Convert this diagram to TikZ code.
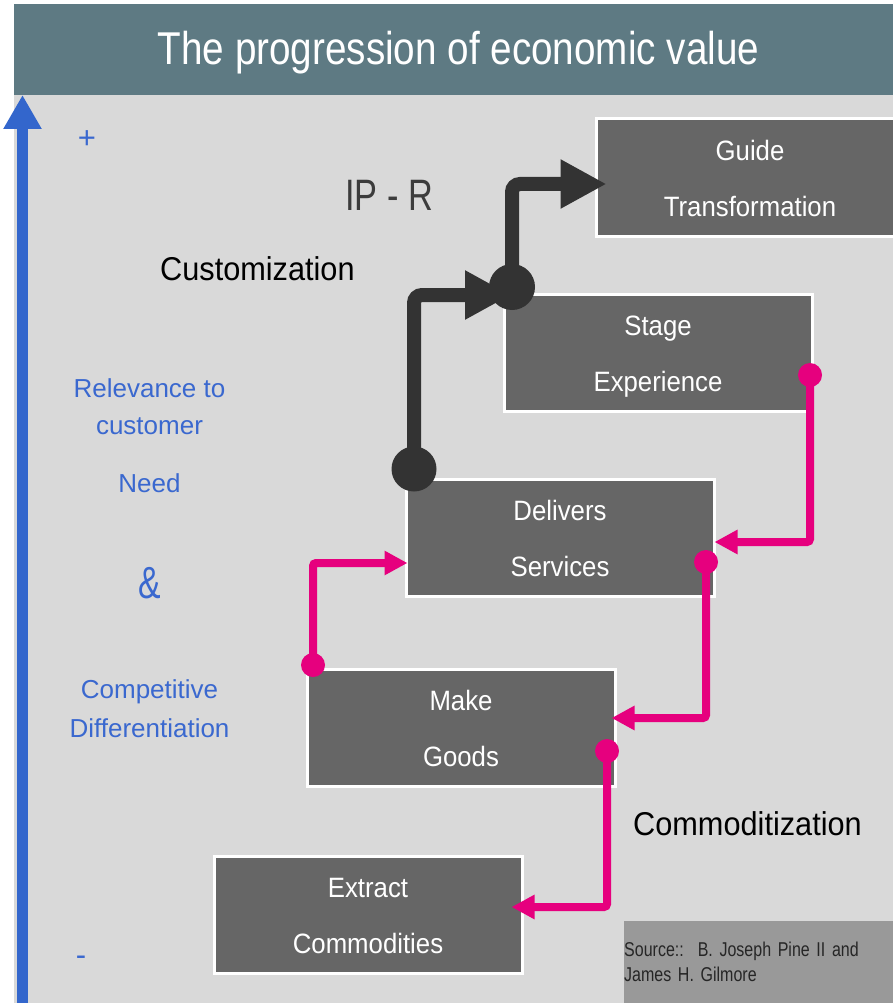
\documentclass[tikz,border=0pt]{standalone}
\usepackage{fontspec}
\setmainfont{Liberation Sans}
\newfontfamily\titlefam[FakeStretch=0.84]{Liberation Sans}
\newfontfamily\boxfam[FakeStretch=0.92]{Liberation Sans}
\newfontfamily\labfam[FakeStretch=0.93]{Liberation Sans}
\newfontfamily\iprfam[FakeStretch=0.78]{Liberation Sans}
\newfontfamily\srcfam[FakeStretch=0.8]{Liberation Sans}
\newfontfamily\ampfam[FakeStretch=0.75]{Liberation Sans}
\newcommand\srcfontsel{\srcfam\fontsize{20}{25}\selectfont\frenchspacing\spaceskip=4pt plus 1pt minus 1pt\relax}
\usetikzlibrary{arrows.meta,calc}
\definecolor{titlebg}{HTML}{5E7A83}
\definecolor{panelbg}{HTML}{D9D9D9}
\definecolor{boxgray}{HTML}{666666}
\definecolor{axisblue}{HTML}{3366CC}
\definecolor{textblue}{HTML}{3A68CF}
\definecolor{pinkc}{HTML}{E6007E}
\definecolor{darkc}{HTML}{333333}
\definecolor{srcgray}{HTML}{999999}
\definecolor{iprgray}{HTML}{3C3C3C}
\tikzset{
  stagebox/.style={rectangle, draw=white, line width=3pt, fill=boxgray,
    minimum width=308pt, minimum height=117pt, inner sep=0pt, text=white,
    align=center, font=\boxfam\fontsize{28}{56}\selectfont},
  bluelab/.style={text=textblue, anchor=base, inner sep=0pt,
    font=\fontsize{26}{31}\selectfont},
  sidelab/.style={text=black, anchor=base west, inner sep=0pt,
    font=\labfam\fontsize{33}{40}\selectfont},
  darkline/.style={draw=darkc, line width=14pt, rounded corners=8pt,
    -{Triangle[length=46pt,width=46pt]}},
  pinkline/.style={draw=pinkc, line width=8pt, rounded corners=3pt,
    -{Triangle[length=23pt,width=23pt]}},
}
\begin{document}
\begin{tikzpicture}[x=1pt,y=-1pt]
\useasboundingbox (0,0) rectangle (893,1003);
% background panels
\fill[panelbg] (14,95) rectangle (893,1003);
\fill[titlebg] (14,4) rectangle (893,95);
\node[text=white, anchor=base, inner sep=0pt, font=\titlefam\fontsize{46}{55}\selectfont]
  (title) at (458.5,65) {The progression of economic value};
% value axis
\coordinate (axisbot) at (22.5,1010);
\coordinate (axistop) at (22.5,95);
\draw[draw=axisblue, line width=11pt, -{Triangle[length=34pt,width=36pt]}] (axisbot) -- (axistop);
\node[text=textblue, anchor=base, inner sep=0pt, font=\fontsize{31}{36}\selectfont] (plus) at (87,148.5) {+};
\node[text=textblue, anchor=base, inner sep=0pt, font=\fontsize{31}{36}\selectfont] (minus) at (81,965) {-};
% left labels
\node[bluelab] (l1) at (149.5,397) {Relevance to};
\node[bluelab] (l2) at (149.5,434) {customer};
\node[bluelab] (l3) at (149.5,492) {Need};
\node[text=textblue, anchor=base, inner sep=0pt, font=\ampfam\fontsize{45}{50}\selectfont] (amp) at (149.5,598) {\&};
\node[bluelab] (l4) at (149.5,698) {Competitive};
\node[bluelab] (l5) at (149.5,737) {Differentiation};
% side labels
\node[sidelab] (cust) at (160,280) {Customization};
\node[sidelab] (comm) at (633,835) {Commoditization};
\node[text=iprgray, anchor=base west, inner sep=0pt, font=\iprfam\fontsize{44}{50}\selectfont] (ipr) at (345,210) {IP - R};
% stage boxes
\node[stagebox] (guide) at (750,177.5) {\strut Guide\\\strut Transformation};
\node[stagebox] (stage) at (658,352.5) {\strut Stage\\\strut Experience};
\node[stagebox] (delivers) at (560,537.5) {\strut Delivers\\\strut Services};
\node[stagebox] (make) at (461,727.5) {\strut Make\\\strut Goods};
\node[stagebox] (extract) at (368,914.5) {\strut Extract\\\strut Commodities};
% source
\node[rectangle, fill=srcgray, anchor=north west, inner sep=0pt, minimum height=82pt,
  text width=269pt, align=left, text=black!85, font=\srcfontsel]
  (source) at (624,921) {Source::\hspace{14pt}B. Joseph Pine II and\\James H. Gilmore};
% connector start points
\coordinate (d1) at (414,469);
\coordinate (d2) at (512,287);
\coordinate (p1) at (810,375);
\coordinate (p2) at (706,562);
\coordinate (p3) at (607,751);
\coordinate (p4) at (313,665);
% customization path (dark)
\draw[darkline] (d1) |- ($(d2)+(-1,8)$);
\draw[darkline] (d2) |- ($(guide.west)+(12,6.5)$);
\fill[darkc] (d1) circle[radius=22.5pt];
\fill[darkc] (d2) circle[radius=23pt];
% commoditization path (pink)
\draw[pinkline] (p1) |- ($(delivers.east)+(-1,4.5)$);
\draw[pinkline] (p2) |- ($(make.east)+(-5,-9.5)$);
\draw[pinkline] (p3) |- ($(extract.east)+(-12,-7.5)$);
\draw[pinkline] (p4) |- ($(delivers.west)+(3,25.5)$);
\foreach \p in {p1,p2,p3,p4} \fill[pinkc] (\p) circle[radius=12pt];
\end{tikzpicture}
\end{document}
